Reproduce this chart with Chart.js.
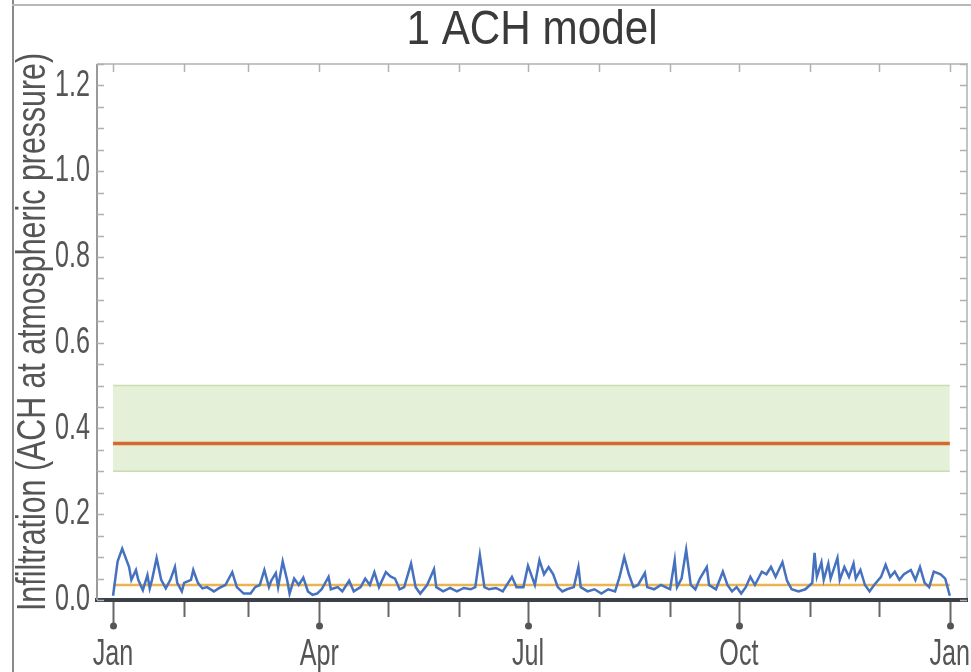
<!DOCTYPE html>
<html>
<head>
<meta charset="utf-8">
<title>1 ACH model</title>
<script src="https://cdn.jsdelivr.net/npm/chart.js@4.4.0/dist/chart.umd.min.js"></script>
<style>
  html, body { margin: 0; padding: 0; background: #fff; }
  #wrap { position: relative; width: 971px; height: 672px; }
  #wrap::before { content: ''; position: absolute; left: 12px; top: 0; bottom: 0; width: 2px; background: #8a8a8a; }
  #wrap::after { content: ''; position: absolute; left: 12px; right: 0; top: 4px; height: 2px; background: #b8b8b8; }
</style>
</head>
<body>
<div id="wrap"><canvas id="chart" width="971" height="672"></canvas></div>
<script>
// ---- data ----
const monthStarts = [0, 31, 59, 90, 120, 151, 181, 212, 243, 273, 304, 334, 365];
const monthNames = ['Jan', 'Feb', 'Mar', 'Apr', 'May', 'Jun', 'Jul', 'Aug', 'Sep', 'Oct', 'Nov', 'Dec', 'Jan'];
const yTicks = [0, 0.2, 0.4, 0.6, 0.8, 1.0, 1.2];

// modelled daily infiltration (day of year, ACH)
const days = [0,2,4,7,8,10,11,13,15,16,17,19,21,23,25,27,28,30,31,34,35,37,39,41,44,46,49,52,54,57,
  60,62,64,66,68,69,71,72,74,76,77,79,81,83,85,87,89,91,94,95,98,100,103,105,108,110,112,114,116,119,
  121,123,125,127,130,132,134,137,140,141,144,147,150,153,156,158,160,162,164,167,170,174,176,179,181,
  184,186,188,190,192,194,196,198,201,203,204,207,210,213,216,219,221,223,225,227,229,232,233,236,239,
  241,243,245,246,248,250,252,254,256,259,260,263,266,268,270,272,274,276,278,280,283,285,287,289,292,294,296,299,302,
  305,306,307,309,310,312,313,316,317,319,321,323,324,326,328,330,332,335,337,339,341,343,345,348,350,352,354,356,358,361,363,365];
const ach = [0.01,0.09,0.12,0.077,0.047,0.07,0.047,0.023,0.058,0.027,0.047,0.098,0.047,0.027,0.047,0.077,0.04,0.02,0.04,0.047,0.07,0.04,0.027,0.03,0.02,0.027,0.035,0.065,0.03,0.015,
  0.015,0.03,0.035,0.07,0.03,0.045,0.063,0.03,0.09,0.045,0.015,0.05,0.035,0.052,0.02,0.012,0.015,0.025,0.054,0.025,0.03,0.02,0.045,0.02,0.03,0.05,0.035,0.065,0.03,0.065,
  0.055,0.05,0.025,0.03,0.085,0.03,0.015,0.035,0.072,0.03,0.02,0.028,0.02,0.028,0.025,0.03,0.105,0.03,0.025,0.028,0.02,0.054,0.03,0.03,0.08,
  0.035,0.093,0.06,0.077,0.06,0.03,0.02,0.025,0.03,0.077,0.03,0.02,0.025,0.015,0.025,0.02,0.055,0.1,0.06,0.03,0.035,0.063,0.03,0.025,0.035,
  0.03,0.025,0.093,0.03,0.05,0.117,0.035,0.025,0.05,0.077,0.035,0.025,0.066,0.035,0.02,0.03,0.015,0.03,0.054,0.035,0.066,0.06,0.077,0.054,0.088,0.045,0.025,0.02,0.025,
  0.04,0.11,0.054,0.088,0.047,0.085,0.05,0.098,0.047,0.077,0.054,0.085,0.05,0.07,0.035,0.02,0.035,0.054,0.082,0.054,0.066,0.047,0.06,0.07,0.047,0.077,0.04,0.03,0.066,0.06,0.05,0.01];

// flat reference lines across the year
const spanDays = [0, 365];
const bandLower = [0.3, 0.3];
const bandUpper = [0.5, 0.5];
const measured = [0.365, 0.365];
const modelMean = [0.035, 0.035];

const FONT = "'Liberation Sans', Arial, sans-serif";

function pairs(xs, ys) {
  return xs.map((d, i) => ({ x: d, y: ys[i] }));
}

// condensed look: squeeze text horizontally
const canvas = document.getElementById('chart');
const ctx = canvas.getContext('2d');
const rawFill = ctx.fillText.bind(ctx);
const rawMeasure = ctx.measureText.bind(ctx);
function squeeze() {
  if (/48px/.test(ctx.font)) return 0.88;
  if (/41px/.test(ctx.font)) return 0.74;
  return 0.68;
}
ctx.fillText = function(text, x, y) {
  const sx = squeeze();
  ctx.save();
  ctx.translate(x, y);
  ctx.scale(sx, 1);
  rawFill(text, 0, 0);
  ctx.restore();
};
ctx.measureText = function(text) {
  const m = rawMeasure(text);
  return {
    width: m.width * squeeze(),
    actualBoundingBoxAscent: m.actualBoundingBoxAscent,
    actualBoundingBoxDescent: m.actualBoundingBoxDescent
  };
};

// frame, inward ticks, month ticks below the axis
const framePlugin = {
  id: 'frame',
  afterDraw(chart) {
    const c = chart.ctx;
    const a = chart.chartArea;
    const x = chart.scales.x;
    const y = chart.scales.y;
    c.save();
    c.lineWidth = 2;
    c.strokeStyle = '#c4c4c4';
    c.beginPath();
    c.moveTo(a.right, a.bottom - 2);
    c.lineTo(a.right, a.top);
    c.lineTo(a.left, a.top);
    c.stroke();
    c.strokeStyle = '#9a9a9a';
    c.beginPath();
    c.moveTo(a.left, a.top);
    c.lineTo(a.left, a.bottom);
    c.stroke();

    c.lineWidth = 1.5;
    c.strokeStyle = '#b0b0b0';
    for (let i = 0; i <= 25; i++) {
      const py = Math.round(y.getPixelForValue(i * 0.05)) + 0.5;
      c.beginPath();
      c.moveTo(a.left, py); c.lineTo(a.left + 7, py);
      c.moveTo(a.right, py); c.lineTo(a.right - 7, py);
      c.stroke();
    }
    monthStarts.forEach((d, i) => {
      const px = Math.round(x.getPixelForValue(d)) + 0.5;
      c.strokeStyle = '#b0b0b0';
      c.lineWidth = 1.5;
      c.beginPath();
      c.moveTo(px, a.top); c.lineTo(px, a.top + 8);
      c.stroke();
      const quarter = i % 3 === 0;
      const len = quarter ? 26 : 17;
      c.strokeStyle = '#666';
      c.lineWidth = 2;
      c.beginPath();
      c.moveTo(px, a.bottom + 2); c.lineTo(px, a.bottom + len);
      c.stroke();
      if (quarter) {
        c.fillStyle = '#555';
        c.beginPath();
        c.arc(px, a.bottom + len, 3.5, 0, Math.PI * 2);
        c.fill();
      }
    });
    c.restore();
  }
};

new Chart(ctx, {
  type: 'line',
  data: {
    datasets: [
      {
        label: 'Modelled infiltration',
        data: pairs(days, ach),
        borderColor: '#4671be',
        borderWidth: 2.5,
        pointRadius: 0,
        tension: 0
      },
      {
        label: 'Model mean',
        data: pairs(spanDays, modelMean),
        borderColor: '#e8b54e',
        borderWidth: 2.5,
        pointRadius: 0
      },
      {
        label: 'Measured',
        data: pairs(spanDays, measured),
        borderColor: '#d8692c',
        borderWidth: 3.5,
        pointRadius: 0
      },
      {
        label: 'Range upper',
        data: pairs(spanDays, bandUpper),
        borderColor: '#c9ddb0',
        borderWidth: 1.5,
        pointRadius: 0,
        fill: false
      },
      {
        label: 'Range lower',
        data: pairs(spanDays, bandLower),
        borderColor: '#c9ddb0',
        borderWidth: 1.5,
        pointRadius: 0,
        backgroundColor: 'rgba(214, 232, 194, 0.65)',
        fill: '-1'
      }
    ]
  },
  options: {
    responsive: false,
    animation: false,
    layout: { padding: { left: 0, right: 4, top: 0, bottom: 0 } },
    plugins: {
      legend: { display: false },
      tooltip: { enabled: false },
      title: {
        display: true,
        fullSize: false,
        text: '1 ACH model',
        color: '#3a3a3a',
        font: { size: 48, family: FONT, weight: 'normal', lineHeight: 1 },
        padding: { top: 7, bottom: 9 }
      }
    },
    scales: {
      x: {
        type: 'linear',
        min: -7,
        max: 372.5,
        afterBuildTicks: s => { s.ticks = monthStarts.map(v => ({ value: v })); },
        afterFit: s => { s.height = 72; s.paddingLeft = 0; s.paddingRight = 0; },
        ticks: {
          autoSkip: false,
          maxRotation: 0,
          padding: 36,
          color: '#555',
          font: { size: 37, family: FONT, lineHeight: 1 },
          callback: (v, i) => (i % 3 === 0 ? monthNames[i] : '')
        },
        grid: { display: false, drawTicks: false },
        border: { display: true, color: '#3c4049', width: 4 }
      },
      y: {
        min: 0,
        max: 1.25,
        afterBuildTicks: s => { s.ticks = yTicks.map(v => ({ value: v })); },
        afterFit: s => { s.width = 97; s.paddingTop = 0; s.paddingBottom = 0; },
        ticks: {
          padding: 7,
          color: '#555',
          font: { size: 37, family: FONT, lineHeight: 1 },
          callback: v => v.toFixed(1)
        },
        grid: { display: false, drawTicks: false },
        border: { display: false },
        title: {
          display: true,
          text: 'Infiltration (ACH at atmospheric pressure)',
          color: '#555',
          font: { size: 41, family: FONT, lineHeight: 1 },
          padding: { top: 13, bottom: 0 }
        }
      }
    }
  },
  plugins: [framePlugin]
});
</script>
</body>
</html>
